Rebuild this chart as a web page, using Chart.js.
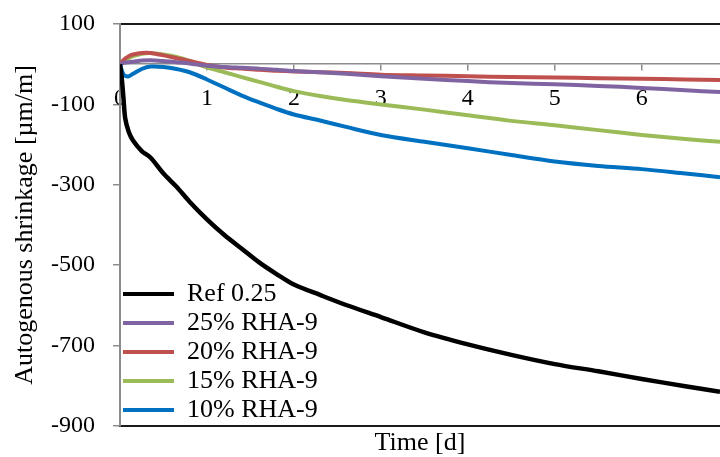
<!DOCTYPE html>
<html>
<head>
<meta charset="utf-8">
<script src="https://cdn.jsdelivr.net/npm/chart.js@4.4.0/dist/chart.umd.min.js"></script>
<style>
  html, body { margin: 0; padding: 0; background: #fff; }
  #wrap { width: 720px; height: 457px; }
</style>
</head>
<body>
<div id="wrap"><canvas id="chart" width="720" height="457"></canvas></div>
<script>
// time axis (days) shared by all series
var days = [0, 0.02, 0.04, 0.06, 0.1, 0.15, 0.25, 0.35, 0.5, 0.65, 0.8, 1.0, 1.2, 1.4, 1.6, 1.8, 2.0, 2.3, 2.6, 3.0, 3.5, 4.0, 4.5, 5.0, 5.5, 6.0, 6.5, 6.9];

var ref025 = [0, -35, -85, -135, -168, -190, -216, -232, -272, -305, -342, -386, -425, -459, -493, -522, -548, -574, -599, -629, -667, -697, -723, -746, -764, -783, -801, -815];
var rha25 = [0, 2, 3, 4, 5, 6, 9, 10, 8, 5, 2, -4, -7, -9, -11, -14, -17, -20, -24, -30, -36, -42, -47, -50, -54, -59, -65, -69];
var rha20 = [0, 5, 10, 14, 20, 24, 28, 28, 22, 15, 8, -2, -8, -11, -14, -16, -18, -20, -22, -26, -28, -30, -32, -33, -35, -36, -38, -39];
var rha15 = [0, 4, 8, 11, 15, 20, 26, 28, 24, 18, 8, -8, -20, -32, -44, -56, -67, -79, -89, -100, -113, -127, -141, -152, -164, -176, -186, -193];
var rha10 = [0, -15, -25, -29, -30, -24, -12, -6, -7, -12, -20, -38, -58, -78, -95, -111, -125, -140, -156, -176, -193, -209, -226, -242, -253, -261, -272, -281];

var seriesNames = ['Ref 0.25', '25% RHA-9', '20% RHA-9', '15% RHA-9', '10% RHA-9'];
var seriesColors = ['#000000', '#8064A2', '#C0504D', '#9BBB59', '#0070C0'];
var seriesValues = [ref025, rha25, rha20, rha15, rha10];

var yTicks = [-900, -700, -500, -300, -100, 100];

var serif = "'Liberation Serif', 'Times New Roman', serif";
Chart.defaults.font.family = serif;
Chart.defaults.color = '#000';

function toPoints(vals) {
    return vals.map(function (v, i) { return {x: days[i], y: v}; });
}

var datasets = seriesValues.map(function (vals, i) {
    return {
        label: seriesNames[i],
        data: toPoints(vals),
        borderColor: seriesColors[i],
        backgroundColor: seriesColors[i],
        borderWidth: i === 0 ? 4.5 : 4,
        pointRadius: 0,
        tension: 0.3,
        fill: false
    };
});

// plain border scales: the top frame and the bottom frame with the title
function frameScale(pos, h, title) {
    return {
        type: 'linear',
        position: pos,
        min: 0,
        max: 6.9,
        ticks: {display: false},
        grid: {display: false},
        border: {display: true, color: '#1a1a1a', width: 2},
        title: {
            display: !!title,
            text: title || '',
            color: '#000',
            font: {family: serif, size: 26, lineHeight: 1.1},
            padding: {top: 0, bottom: 0}
        },
        afterFit: function (s) { s.height = h; }
    };
}

// legend in the chart area is laid out from 0, move it down to the real area
var legendShift = {
    id: 'legendShift',
    afterUpdate: function (c) {
        var lg = c.legend;
        if (!lg) return;
        var dy = c.chartArea.top - lg.top;
        lg.top += dy;
        lg.bottom += dy;
    }
};

var chart = new Chart(document.getElementById('chart').getContext('2d'), {
    type: 'line',
    data: {datasets: datasets},
    plugins: [legendShift],
    options: {
        responsive: false,
        animation: false,
        layout: {padding: 0},
        plugins: {
            tooltip: {enabled: false},
            legend: {
                position: 'chartArea',
                align: 'end',
                labels: {
                    boxWidth: 51,
                    boxHeight: 4,
                    padding: 3,
                    color: '#000',
                    font: {family: serif, size: 26},
                    generateLabels: function (c) {
                        return c.data.datasets.map(function (ds, i) {
                            return {
                                text: ds.label,
                                fillStyle: ds.borderColor,
                                strokeStyle: ds.borderColor,
                                lineWidth: 0,
                                hidden: false,
                                datasetIndex: i
                            };
                        });
                    }
                }
            }
        },
        scales: {
            x: {
                type: 'linear',
                position: {y: 0},
                min: 0,
                max: 6.9,
                ticks: {
                    stepSize: 1,
                    includeBounds: false,
                    padding: 14,
                    color: '#000',
                    font: {family: serif, size: 24},
                    maxRotation: 0
                },
                grid: {drawOnChartArea: false, tickLength: 6, color: '#8c8c8c', lineWidth: 1.5},
                border: {color: '#8c8c8c', width: 1.5}
            },
            xTop: frameScale('top', 24, null),
            xBottom: frameScale('bottom', 31, 'Time [d]'),
            y: {
                min: -900,
                max: 100,
                afterBuildTicks: function (s) {
                    s.ticks = yTicks.map(function (v) { return {value: v}; });
                },
                ticks: {
                    padding: 18,
                    color: '#000',
                    // small line height so the labels do not push the plot area down
                    font: {family: serif, size: 24, lineHeight: 0.5}
                },
                grid: {drawOnChartArea: false, tickLength: 7, color: '#8c8c8c', lineWidth: 1.5},
                border: {color: '#8c8c8c', width: 2},
                title: {
                    display: true,
                    text: 'Autogenous shrinkage [µm/m]',
                    color: '#000',
                    font: {family: serif, size: 26},
                    padding: {top: 10, bottom: 0}
                },
                afterFit: function (s) { s.width = 120; }
            }
        }
    }
});
</script>
</body>
</html>
